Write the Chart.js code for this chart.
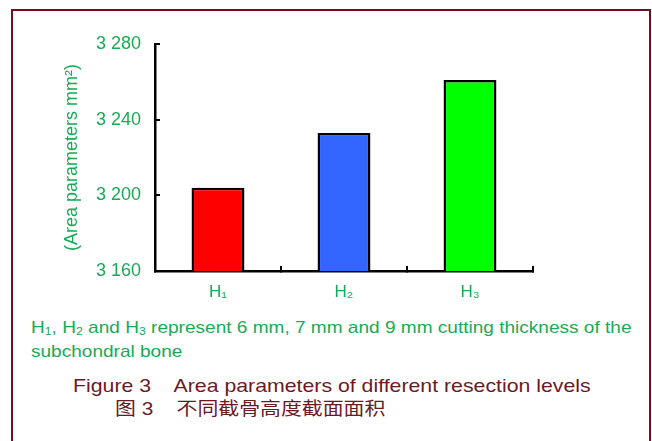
<!DOCTYPE html>
<html>
<head>
<meta charset="utf-8">
<script src="https://cdn.jsdelivr.net/npm/chart.js@4.4.0/dist/chart.umd.min.js"></script>
<style>
  body { margin: 0; background: #fff; width: 652px; height: 441px; overflow: hidden; position: relative; font-family: "Liberation Sans", Arial, sans-serif; }
  .frame { position: absolute; left: 11px; top: 9px; width: 636px; height: 440px; border: 2px solid #6e1020; border-bottom: none; }
  .chart { position: absolute; left: 0; top: 0; width: 652px; height: 310px; }
  .wide { transform: scaleX(1.12); transform-origin: left top; }
  .note { position: absolute; left: 31px; top: 316px; width: 545px; color: #1aaa55; font-size: 17px; line-height: 24px; }
  .note sub { font-size: 11px; vertical-align: -2px; line-height: 0; }
  .cap { position: absolute; left: 73px; top: 374px; color: #6b1a1f; font-size: 19px; line-height: 24px; white-space: pre; }
  .cap2 { position: absolute; left: 115px; top: 397px; color: #6b1a1f; font-size: 18px; line-height: 24px; white-space: pre; font-family: "Liberation Sans", "Noto Sans CJK SC", sans-serif; transform: scaleX(1.16); transform-origin: left top; }
</style>
</head>
<body>
<div class="frame"></div>
<div class="chart"><canvas id="myChart" width="652" height="310"></canvas></div>
<div class="note wide">H<sub>1</sub>, H<sub>2</sub> and H<sub>3</sub> represent 6 mm, 7 mm and 9 mm cutting thickness of the subchondral bone</div>
<div class="cap wide">Figure 3    Area parameters of different resection levels</div>
<div class="cap2">图 3    不同截骨高度截面面积</div>
<script>
// data
const groups = ["H\u2081", "H\u2082", "H\u2083"];
const areas = [3204, 3233, 3261];
const barColors = ["#ff0000", "#3366ff", "#00ff00"];
const yMin = 3160;
const yMax = 3280;
const yStep = 40;

const green = "#1aaa55";

let ctx = document.getElementById("myChart").getContext("2d");
let chart = new Chart(ctx, {
  type: "bar",
  data: {
    labels: groups,
    datasets: [
      {
        data: areas,
        backgroundColor: barColors,
        borderColor: "#000",
        borderWidth: 2.5,
        borderSkipped: false,
        barPercentage: 0.42,
        categoryPercentage: 1,
      },
    ],
  },
  options: {
    responsive: false,
    animation: false,
    layout: { padding: { top: 44, right: 119, left: 0, bottom: 0 } },
    plugins: { legend: { display: false }, tooltip: { enabled: false } },
    scales: {
      x: {
        grid: { drawOnChartArea: false, color: "#000", lineWidth: 2, tickLength: -5 },
        border: { color: "#000", width: 2.5 },
        ticks: { color: green, font: { size: 17, family: "Liberation Sans" }, padding: 16 },
        afterFit: (scale) => { scale.height = 39; },
      },
      y: {
        min: yMin,
        max: yMax,
        grid: { drawOnChartArea: false, color: "#000", lineWidth: 2, tickLength: -5 },
        border: { color: "#000", width: 2.5 },
        ticks: {
          stepSize: yStep,
          color: green,
          font: { size: 18, family: "Liberation Sans" },
          padding: 19,
          callback: (v) => String(v).replace(/\B(?=(\d{3})+(?!\d))/g, " "),
        },
        title: {
          display: true,
          text: "(Area parameters mm\u00b2)",
          color: green,
          font: { size: 18, family: "Liberation Sans" },
          padding: { top: 61 },
        },
        afterFit: (scale) => { scale.width = 155; },
      },
    },
  },
});
</script>
</body>
</html>
